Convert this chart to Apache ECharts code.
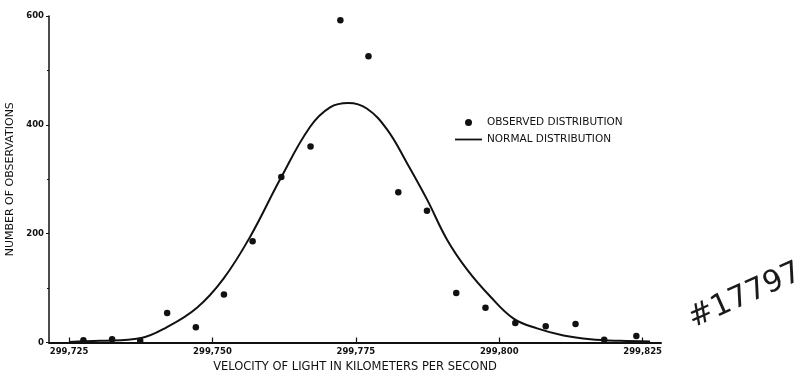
<!DOCTYPE html>
<html>
<head>
<meta charset="utf-8">
<script src="https://cdn.jsdelivr.net/npm/echarts@6/dist/echarts.min.js"></script>
<style>
html,body{margin:0;padding:0;background:#fff;}
#chart{width:809px;height:379px;}
</style>
</head>
<body>
<div id="chart"></div>
<script>
// Observed distribution (velocity km/s, number of observations)
const obsX = [299727.5, 299732.5, 299737.4, 299742.1, 299747.1, 299752.0, 299757.0, 299762.0, 299767.1, 299772.3,
              299777.2, 299782.4, 299787.4, 299792.5, 299797.6, 299802.8, 299808.1, 299813.3, 299818.3, 299823.9];
const obsY = [4, 6, 3, 54, 28, 88, 186, 304, 360, 592,
              526, 276, 242, 91, 64, 36, 30, 34, 5, 12];

// Normal distribution curve
const curveX = [299725.0, 299730.4, 299737.4, 299742.0, 299747.3, 299751.9, 299756.6, 299761.8, 299767.0,
                299770.5, 299773.7, 299776.9, 299780.4, 299783.9, 299787.4, 299790.9, 299794.4, 299798.4, 299802.5,
                299806.6, 299811.2, 299815.9, 299821.1, 299826.3];
const curveY = [1, 3, 8, 28, 64, 117, 195, 300, 396,
                432, 440, 430, 392, 330, 263, 189, 134, 85, 44,
                26, 13, 6, 3, 2];

const xTicks = [299725, 299750, 299775, 299800, 299825];
const yTicks = [0, 200, 400, 600];

const FONT = 'DejaVu Sans';
const INK = '#111';

const chart = echarts.init(document.getElementById('chart'), null, {renderer: 'canvas'});

const obsData = obsX.map((x, i) => [x, obsY[i]]);
const curveData = curveX.map((x, i) => [x, curveY[i]]);

function fmtVel(v) {
  const s = String(Math.round(v));
  return s.slice(0, 3) + ',' + s.slice(3);
}

chart.setOption({
  backgroundColor: '#fff',
  animation: false,
  textStyle: {fontFamily: FONT, color: INK},
  grid: {left: 49, right: 148, top: 16, bottom: 36.5, containLabel: false, outerBoundsMode: 'none'},
  legend: {
    orient: 'vertical',
    left: 455,
    top: 117,
    padding: 0,
    itemWidth: 27,
    itemHeight: 7,
    itemGap: 6,
    selectedMode: false,
    textStyle: {fontFamily: FONT, fontSize: 10.5, color: INK},
    data: [
      {name: 'OBSERVED DISTRIBUTION', icon: 'circle', itemStyle: {color: INK, opacity: 1}},
      {name: 'NORMAL DISTRIBUTION', icon: 'path://M0 0 H27 V1.8 H0 Z', itemStyle: {color: INK, borderWidth: 0}}
    ]
  },
  xAxis: {
    type: 'value',
    min: 299721.5,
    max: 299828.2,
    name: 'VELOCITY OF LIGHT IN KILOMETERS PER SECOND',
    nameLocation: 'middle',
    nameGap: 12,
    nameTextStyle: {fontFamily: FONT, fontSize: 11.5, color: INK, verticalAlign: 'top'},
    splitLine: {show: false},
    axisLine: {show: true, onZero: false, lineStyle: {color: INK, width: 2}},
    axisTick: {show: true, inside: true, length: 5, customValues: xTicks, lineStyle: {color: INK, width: 1.2}},
    axisLabel: {
      customValues: xTicks,
      margin: 5,
      fontFamily: FONT, fontSize: 8.5, fontWeight: 'bold', color: INK,
      formatter: fmtVel
    }
  },
  yAxis: {
    type: 'value',
    min: 0,
    max: 600,
    interval: 200,
    name: 'NUMBER OF OBSERVATIONS',
    nameLocation: 'middle',
    nameRotate: 90,
    nameGap: 24,
    nameTextStyle: {fontFamily: FONT, fontSize: 11, color: INK},
    splitLine: {show: false},
    axisLine: {show: true, lineStyle: {color: INK, width: 1.5}},
    axisTick: {show: true, length: 3, lineStyle: {color: INK, width: 1}},
    minorTick: {show: true, splitNumber: 2, length: 2, lineStyle: {color: INK, width: 1}},
    axisLabel: {
      margin: 5,
      fontFamily: FONT, fontSize: 8.5, fontWeight: 'bold', color: INK,
      formatter: v => (yTicks.indexOf(v) >= 0 ? String(v) : '')
    }
  },
  series: [
    {
      name: 'NORMAL DISTRIBUTION',
      type: 'line',
      data: curveData,
      smooth: 0.4,
      symbol: 'none',
      lineStyle: {color: INK, width: 2},
      itemStyle: {color: INK},
      z: 3
    },
    {
      name: 'OBSERVED DISTRIBUTION',
      type: 'scatter',
      data: obsData,
      symbol: 'circle',
      symbolSize: 6.5,
      itemStyle: {color: INK, opacity: 1},
      z: 4
    }
  ],
  graphic: [
    {
      type: 'text',
      x: 745,
      y: 296,
      rotation: 0.42,
      style: {
        text: '#17797',
        x: 0, y: 0,
        align: 'center', verticalAlign: 'middle',
        textAlign: 'center', textVerticalAlign: 'middle',
        font: '400 30px "DejaVu Sans"',
        fill: '#1a1a1a'
      }
    }
  ]
});
</script>
</body>
</html>
